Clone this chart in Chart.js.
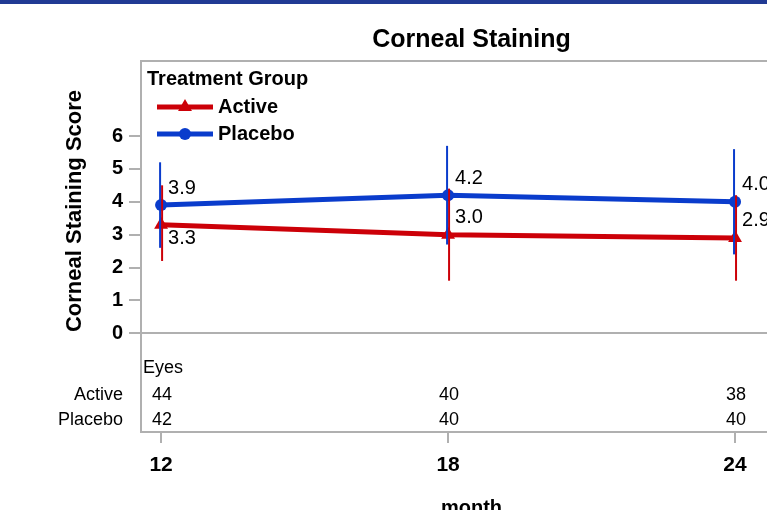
<!DOCTYPE html>
<html>
<head>
<meta charset="utf-8">
<title>Corneal Staining</title>
<script src="https://cdn.jsdelivr.net/npm/chart.js@4.4.1/dist/chart.umd.min.js"></script>
<style>
  html, body { margin: 0; padding: 0; background: #fff; overflow: hidden; }
  #wrap { width: 810px; height: 525px; }
</style>
</head>
<body>
<div id="wrap"><canvas id="stainChart" width="810" height="525"></canvas></div>
<script>
// ------------------------------------------------------------
// Corneal staining score by month, Active vs Placebo
// ------------------------------------------------------------

// visits (months)
const months = [12, 18, 24];

// mean score per visit
const activeMean = [3.3, 3.0, 2.9];
const placeboMean = [3.9, 4.2, 4.0];

// error bar limits
const activeLow = [2.2, 1.6, 1.6];
const activeHigh = [4.5, 4.4, 4.2];
const placeboLow = [2.6, 2.7, 2.4];
const placeboHigh = [5.2, 5.7, 5.6];

// eyes evaluated per visit
const activeEyes = [44, 40, 38];
const placeboEyes = [42, 40, 40];

const yTicks = [0, 1, 2, 3, 4, 5, 6];

const FONT = "'Liberation Sans', Arial, Helvetica, sans-serif";
const RED = "#cc0008";
const BLUE = "#0a3ccc";
const AXIS = "#b0b0b0";

const toPoints = (vals) => months.map((m, i) => ({ x: m, y: vals[i] }));

// top banner, plot frame line and the zero reference line
const framePlugin = {
  id: "frame",
  beforeDraw(chart) {
    const ctx = chart.ctx;
    ctx.save();
    ctx.fillStyle = "#213a94";
    ctx.fillRect(0, 0, chart.width, 4);
    ctx.restore();
  },
  beforeDatasetsDraw(chart) {
    const { ctx, chartArea } = chart;
    const y0 = Math.round(chart.scales.y.getPixelForValue(0));
    ctx.save();
    ctx.strokeStyle = AXIS;
    ctx.lineWidth = 2;
    ctx.beginPath();
    ctx.moveTo(chartArea.left, chartArea.top);
    ctx.lineTo(chartArea.right, chartArea.top);
    ctx.moveTo(chartArea.left, y0);
    ctx.lineTo(chartArea.right, y0);
    ctx.stroke();
    ctx.restore();
  },
};

// vertical error bars, nudged a little so the two groups don't overlap
const errorBarPlugin = {
  id: "errorBars",
  afterDatasetsDraw(chart) {
    const { ctx, scales } = chart;
    ctx.save();
    chart.data.datasets.forEach((ds) => {
      ctx.strokeStyle = ds.borderColor;
      ctx.lineWidth = 2;
      months.forEach((m, i) => {
        const x = scales.x.getPixelForValue(m) + ds.barShift;
        ctx.beginPath();
        ctx.moveTo(x, scales.y.getPixelForValue(ds.errLow[i]));
        ctx.lineTo(x, scales.y.getPixelForValue(ds.errHigh[i]));
        ctx.stroke();
      });
    });
    ctx.restore();
  },
};

// value labels next to each mean
const valueLabelPlugin = {
  id: "valueLabels",
  afterDatasetsDraw(chart) {
    const { ctx, scales } = chart;
    ctx.save();
    ctx.font = `20px ${FONT}`;
    ctx.fillStyle = "#000";
    ctx.textAlign = "left";
    ctx.textBaseline = "middle";
    chart.data.datasets.forEach((ds) => {
      ds.data.forEach((p, i) => {
        const x = scales.x.getPixelForValue(p.x) + 7;
        const y = scales.y.getPixelForValue(p.y);
        const dy = ds.labelSide[i] === "below" ? 14 : -17;
        ctx.fillText(p.y.toFixed(1), x, y + dy);
      });
    });
    ctx.restore();
  },
};

// legend with line + marker swatches, inside the plot area
const legendPlugin = {
  id: "groupLegend",
  afterDraw(chart) {
    const { ctx, chartArea } = chart;
    const left = chartArea.left;
    const top = chartArea.top;
    ctx.save();
    ctx.fillStyle = "#000";
    ctx.textBaseline = "middle";
    ctx.textAlign = "left";
    ctx.font = `bold 20px ${FONT}`;
    ctx.fillText("Treatment Group", left + 6, top + 18);

    chart.data.datasets.forEach((ds, i) => {
      const y = top + 46 + i * 27;
      ctx.strokeStyle = ds.borderColor;
      ctx.lineWidth = 5;
      ctx.beginPath();
      ctx.moveTo(left + 16, y);
      ctx.lineTo(left + 72, y);
      ctx.stroke();
      ctx.fillStyle = ds.backgroundColor;
      Chart.helpers.drawPoint(ctx, {
        pointStyle: ds.pointStyle,
        radius: ds.pointRadius,
        rotation: 0,
        borderWidth: 0,
      }, left + 44, y);
      ctx.fillStyle = "#000";
      ctx.fillText(ds.label, left + 77, y);
    });
    ctx.restore();
  },
};

// rotated y-axis title, centred on the 0..6 range
const yTitlePlugin = {
  id: "yTitle",
  afterDraw(chart) {
    const ctx = chart.ctx;
    ctx.save();
    ctx.translate(75, 211);
    ctx.rotate(-Math.PI / 2);
    ctx.font = `bold 22px ${FONT}`;
    ctx.fillStyle = "#000";
    ctx.textAlign = "center";
    ctx.textBaseline = "middle";
    ctx.fillText("Corneal Staining Score", 0, 0);
    ctx.restore();
  },
};

// "Eyes" counts table under the zero line
const eyesTablePlugin = {
  id: "eyesTable",
  afterDraw(chart) {
    const { ctx, chartArea, scales } = chart;
    const rows = [
      { name: "Active", counts: activeEyes, y: 395 },
      { name: "Placebo", counts: placeboEyes, y: 420 },
    ];
    ctx.save();
    ctx.font = `18px ${FONT}`;
    ctx.fillStyle = "#000";
    ctx.textBaseline = "middle";
    ctx.textAlign = "left";
    ctx.fillText("Eyes", chartArea.left + 2, 368);
    rows.forEach((row) => {
      ctx.textAlign = "right";
      ctx.fillText(row.name, 123, row.y);
      ctx.textAlign = "center";
      row.counts.forEach((n, i) => {
        ctx.fillText(String(n), scales.x.getPixelForValue(months[i]) + 1, row.y);
      });
    });
    ctx.restore();
  },
};

const ctx = document.getElementById("stainChart");
new Chart(ctx, {
  type: "line",
  data: {
    datasets: [
      {
        label: "Active",
        data: toPoints(activeMean),
        errLow: activeLow,
        errHigh: activeHigh,
        labelSide: ["below", "above", "above"],
        barShift: 1,
        borderColor: RED,
        backgroundColor: RED,
        borderWidth: 5,
        pointStyle: "triangle",
        pointRadius: 8,
        pointBorderWidth: 0,
        tension: 0,
      },
      {
        label: "Placebo",
        data: toPoints(placeboMean),
        errLow: placeboLow,
        errHigh: placeboHigh,
        labelSide: ["above", "above", "above"],
        barShift: -1,
        borderColor: BLUE,
        backgroundColor: BLUE,
        borderWidth: 5,
        pointStyle: "circle",
        pointRadius: 6,
        pointBorderWidth: 0,
        tension: 0,
      },
    ],
  },
  options: {
    responsive: false,
    animation: false,
    layout: { padding: 0 },
    plugins: {
      legend: { display: false },
      tooltip: { enabled: false },
      title: {
        display: true,
        text: "Corneal Staining",
        fullSize: false,
        color: "#000",
        font: { family: FONT, size: 25, weight: "bold" },
        padding: { top: 25, bottom: 6 },
      },
    },
    scales: {
      x: {
        type: "linear",
        min: 11.58,
        max: 25.40,
        afterBuildTicks: (s) => { s.ticks = months.map((v) => ({ value: v })); },
        afterFit: (s) => { s.height = 93; },
        grid: { drawOnChartArea: false, tickLength: 11, color: AXIS, lineWidth: 2 },
        border: { color: AXIS, width: 2 },
        ticks: {
          color: "#000",
          font: { family: FONT, size: 21, weight: "bold" },
          padding: 10,
          maxRotation: 0,
        },
        title: {
          display: true,
          text: "month",
          color: "#000",
          font: { family: FONT, size: 20, weight: "bold" },
          padding: { top: 0, bottom: 5 },
        },
      },
      y: {
        min: -3,
        max: 8.28,
        afterBuildTicks: (s) => { s.ticks = yTicks.map((v) => ({ value: v })); },
        afterFit: (s) => { s.width = 141; },
        grid: { drawOnChartArea: false, tickLength: 12, color: AXIS, lineWidth: 2 },
        border: { color: AXIS, width: 2 },
        ticks: {
          color: "#000",
          font: { family: FONT, size: 20, weight: "bold" },
          padding: 6,
        },
      },
    },
  },
  plugins: [framePlugin, errorBarPlugin, valueLabelPlugin, legendPlugin, yTitlePlugin, eyesTablePlugin],
});
</script>
</body>
</html>
